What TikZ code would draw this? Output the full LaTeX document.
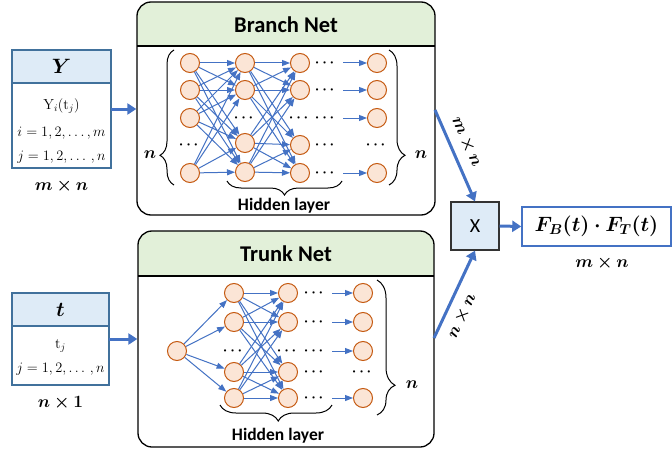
\documentclass[tikz,border=0pt]{standalone}
\usepackage{amsmath}
\usepackage{bm}
\usepackage{fontspec}
\newfontfamily\carl{Carlito}
\usetikzlibrary{arrows.meta,decorations.pathreplacing,calc}
\definecolor{arrowblue}{HTML}{4472C4}
\definecolor{nodefill}{HTML}{FBE5D6}
\definecolor{nodeedge}{HTML}{C55A11}
\definecolor{headgreen}{HTML}{E2F0D9}
\definecolor{headblue}{HTML}{DEEBF7}
\definecolor{boxedge}{HTML}{41719C}
\definecolor{xedge}{HTML}{333333}
\begin{document}
\begin{tikzpicture}[x=1pt,y=-1pt,
  neuron/.style={circle, draw=nodeedge, fill=nodefill, line width=1pt, minimum size=19pt, inner sep=0pt},
  conn/.style={arrowblue, line width=1pt, -{Triangle[length=8pt,width=6pt]}},
  bigarrow/.style={arrowblue, line width=3pt, -{Triangle[length=9pt,width=11pt]}},
  dotsnode/.style={inner sep=0pt, font=\fontsize{14}{14}\selectfont},
  netbox/.style={draw=black, line width=1.3pt, rounded corners=14pt, inner sep=0pt},
  brc/.style={decorate, line width=1pt},
  title/.style={font=\carl\bfseries\fontsize{22.5}{24}\selectfont},
  hid/.style={font=\carl\bfseries\fontsize{17.5}{19}\selectfont},
  mathtxt/.style={font=\fontsize{14.5}{17}\selectfont, inner sep=0pt},
  dimtxt/.style={font=\fontsize{17}{19}\selectfont, text=black}
]
\useasboundingbox (0,0) rectangle (672,452);

% ---------- Branch net box ----------
\begin{scope}
\clip[rounded corners=14pt] (137,2) rectangle (435,215);
\fill[white] (137,2) rectangle (435,215);
\fill[headgreen] (137,2) rectangle (435,46);
\end{scope}
\draw[line width=1.3pt] (137,46) -- (435,46);
\node[netbox, minimum width=298pt, minimum height=213pt] (branch) at (286,108.5) {};
\node[title] (btitle) at (286,25) {Branch Net};

% ---------- Trunk net box ----------
\begin{scope}
\clip[rounded corners=14pt] (138,231) rectangle (434,447);
\fill[white] (138,231) rectangle (434,447);
\fill[headgreen] (138,231) rectangle (434,276);
\end{scope}
\draw[line width=1.3pt] (138,276) -- (434,276);
\node[netbox, minimum width=296pt, minimum height=216pt] (trunk) at (286,339) {};
\node[title] (ttitle) at (286,254) {Trunk Net};

% ---------- Branch neurons ----------
\foreach \n/\x/\y in {b11/190/63, b12/190/90, b13/190/118, b15/190/173,
                      b21/245/63, b22/245/90, b24/245/143, b25/245/172,
                      b31/300/63, b32/300/90, b34/300/145, b35/300/173,
                      b41/377/63, b42/377/90, b43/377/118, b45/377/173}
  \node[neuron] (\n) at (\x,\y) {};
\foreach \n/\x/\y in {bd1/190/145, bd2/245/118, bd3/300/118,
                      bd4/326/63, bd5/326/90, bd6/326/118, bd7/326/145, bd8/326/173,
                      bd9/377/145}
  \node[dotsnode] (\n) at (\x,\y) {$\bm{\cdots}$};
\foreach \s in {b11,b12,b13,b15}
  \foreach \t in {b21,b22,b24,b25}
    \draw[conn] (\s) -- (\t);
\foreach \s in {b21,b22,b24,b25}
  \foreach \t in {b31,b32,b34,b35}
    \draw[conn] (\s) -- (\t);
\foreach \t/\y in {b41/63, b42/90, b43/118, b45/173}{
  \coordinate (s\t) at (343,\y);
  \draw[conn] (s\t) -- (\t);
}

% braces branch
\draw[brc, decoration={brace, amplitude=14pt, aspect=0.22}] (174,185) -- (174,50);
\node[dimtxt] (bnl) at (150,155) {$\bm{n}$};
\draw[brc, decoration={brace, amplitude=16pt, aspect=0.78}] (389,50) -- (389,185);
\node[dimtxt] (bnr) at (421,155) {$\bm{n}$};
\draw[brc, decoration={brace, amplitude=14pt, aspect=0.5}] (342,181) -- (227,181);
\node[hid] (bhid) at (284,206) {Hidden layer};

% ---------- Trunk neurons ----------
\node[neuron] (t0) at (177,351) {};
\foreach \n/\x/\y in {t21/234/293, t22/234/322, t24/234/372, t25/234/398,
                      t31/288/293, t32/288/322, t34/288/372, t35/288/398,
                      t41/363/293, t42/363/322, t43/363/351, t45/363/398}
  \node[neuron] (\n) at (\x,\y) {};
\foreach \n/\x/\y in {td1/234/351, td2/288/351,
                      td3/315/293, td4/315/322, td5/315/351, td6/315/372, td7/315/398,
                      td8/363/372}
  \node[dotsnode] (\n) at (\x,\y) {$\bm{\cdots}$};
\foreach \t in {t21,t22,t24,t25}
  \draw[conn] (t0) -- (\t);
\foreach \s in {t21,t22,t24,t25}
  \foreach \t in {t31,t32,t34,t35}
    \draw[conn] (\s) -- (\t);
\foreach \t/\y in {t41/293, t42/322, t43/351, t45/398}{
  \coordinate (s\t) at (332,\y);
  \draw[conn] (s\t) -- (\t);
}
\draw[brc, decoration={brace, amplitude=18pt, aspect=0.78}] (377,280) -- (377,415);
\node[dimtxt] (tnr) at (412,385) {$\bm{n}$};
\draw[brc, decoration={brace, amplitude=16pt, aspect=0.48}] (332,405) -- (220,405);
\node[hid] (thid) at (278,436) {Hidden layer};

% ---------- Y input box ----------
\node[draw=boxedge, fill=headblue, line width=1.2pt, minimum width=99pt, minimum height=33pt, inner sep=0pt,
      font=\fontsize{20}{22}\selectfont] (yhead) at (61.5,66.5) {$\bm{Y}$};
\node[draw=boxedge, fill=white, line width=1.2pt, minimum width=99pt, minimum height=85pt, inner sep=0pt] (ybody) at (61.5,125.5) {};
\node[mathtxt] (y1) at (61.5,106) {$\mathrm{Y}_i(\mathrm{t}_j)$};
\node[mathtxt] (y2) at (61.5,133) {$i=1,2,\ldots,m$};
\node[mathtxt] (y3) at (61.5,157) {$j=1,2,\ldots\,,n$};
\node[dimtxt] (ydim) at (61.5,186) {$\bm{m\times n}$};
\coordinate (ya) at (111,109);
\draw[bigarrow] (ya) -- (ya -| branch.west);

% ---------- t input box ----------
\node[draw=boxedge, fill=headblue, line width=1.2pt, minimum width=97pt, minimum height=33pt, inner sep=0pt,
      font=\fontsize{20}{22}\selectfont] (thead) at (60.5,309.5) {$\bm{t}$};
\node[draw=boxedge, fill=white, line width=1.2pt, minimum width=97pt, minimum height=59pt, inner sep=0pt] (tbody) at (60.5,355.5) {};
\node[mathtxt] (t1) at (60.5,346) {$\mathrm{t}_j$};
\node[mathtxt] (t2) at (60.5,369) {$j=1,2,\ldots\,,n$};
\node[dimtxt] (tdim) at (60.5,403) {$\bm{n\times 1}$};
\coordinate (ta) at (109,339);
\draw[bigarrow] (ta) -- (ta -| trunk.west);

% ---------- product ----------
\node[draw=xedge, fill=headblue, line width=1.2pt, minimum size=48pt, inner sep=0pt,
      font=\carl\fontsize{20}{22}\selectfont] (xbox) at (475,226) {X};
\node[draw=arrowblue, fill=white, line width=1.5pt, minimum width=149pt, minimum height=39pt, inner sep=0pt,
      font=\fontsize{21}{23}\selectfont] (out) at (596.5,226.5) {$\bm{F_B(t)\cdot F_T(t)}$};
\node[dimtxt] (odim) at (602,263) {$\bm{m\times n}$};
\coordinate (bo) at (435,110);
\coordinate (to) at (434,338);
\draw[bigarrow] (bo) -- (xbox.north) node[pos=0.42, sloped, above=8pt, dimtxt, inner sep=0pt] (lab1) {$\bm{m\times n}$};
\draw[bigarrow] (to) -- (xbox.south) node[pos=0.33, sloped, below=8pt, dimtxt, inner sep=0pt] (lab2) {$\bm{n\times n}$};
\draw[bigarrow] (xbox.east) -- (out.west);
\end{tikzpicture}
\end{document}
